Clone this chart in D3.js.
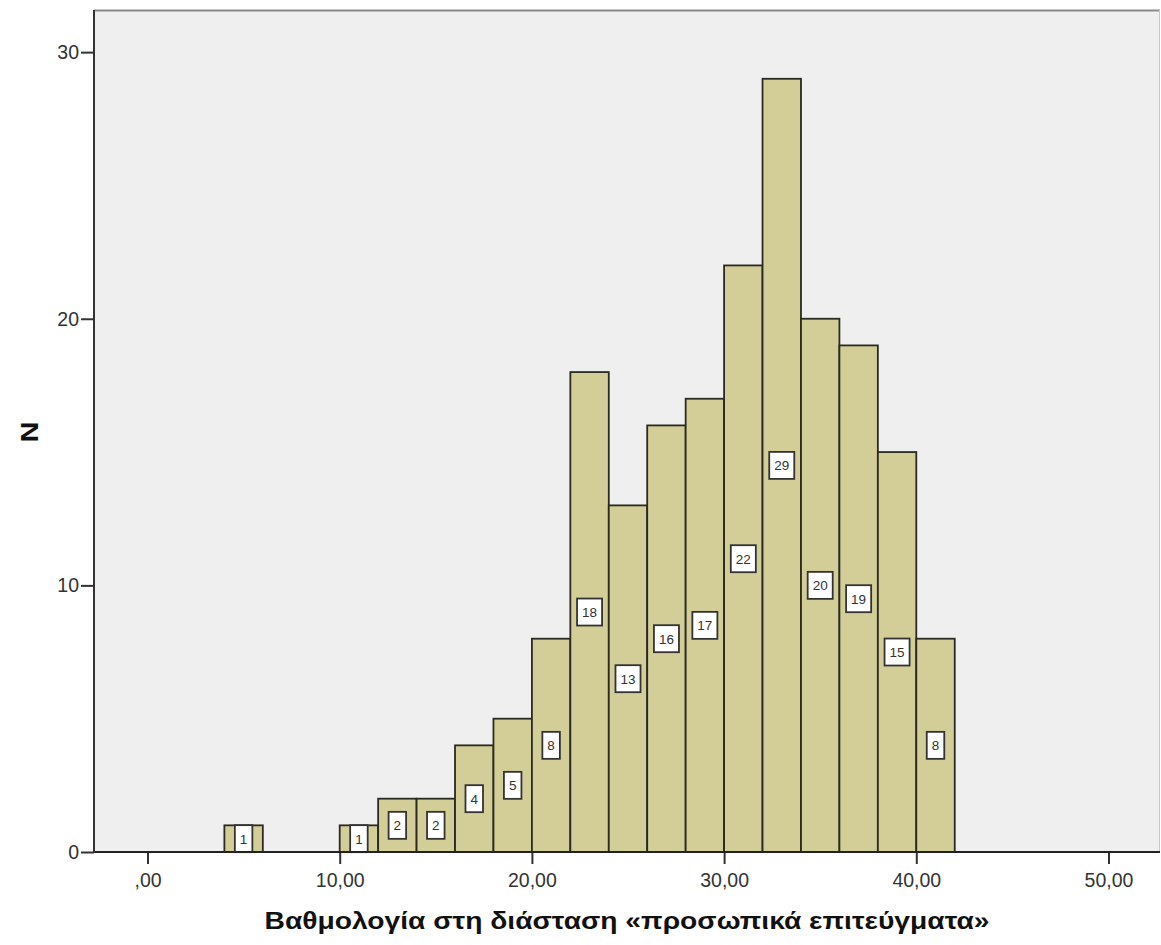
<!DOCTYPE html>
<html><head><meta charset="utf-8">
<script src="https://cdn.jsdelivr.net/npm/d3@7"></script>
<style>
html,body{margin:0;padding:0;background:#fff;}
svg{display:block;}
text{font-family:Arial,"Liberation Sans",sans-serif;}
</style></head>
<body>
<script>
// data
const binStarts = [4, 10, 12, 14, 16, 18, 20, 22, 24, 26, 28, 30, 32, 34, 36, 38, 40];
const counts    = [1, 1, 2, 2, 4, 5, 8, 18, 13, 16, 17, 22, 29, 20, 19, 15, 8];
const binWidth = 2;
const xTicks = [0, 10, 20, 30, 40, 50];
const xTickLabels = [",00", "10,00", "20,00", "30,00", "40,00", "50,00"];
const yTicks = [0, 10, 20, 30];
const xTitle = "Βαθμολογία στη διάσταση «προσωπικά επιτεύγματα»";
const yTitle = "N";

const W = 1161, H = 945;
const L = 94, T = 10, R = 1160, B = 852;

const svg = d3.select("body").append("svg").attr("width", W).attr("height", H);

const x = d3.scaleLinear().domain([-2.784, 52.68]).range([L, R]);
const y = d3.scaleLinear().domain([0, 31.58]).range([B, T]);

// plot background
svg.append("rect").attr("x", L).attr("y", T).attr("width", R - L).attr("height", B - T)
  .attr("fill", "#efefef");
// top border
svg.append("line").attr("x1", L).attr("x2", R).attr("y1", T + 0.5).attr("y2", T + 0.5)
  .attr("stroke", "#8a8a8a").attr("stroke-width", 2);
// right border
svg.append("line").attr("x1", R - 0.5).attr("x2", R - 0.5).attr("y1", T).attr("y2", B)
  .attr("stroke", "#c8c8c8").attr("stroke-width", 1);

const data = binStarts.map((s, i) => ({ s, e: s + binWidth, n: counts[i] }));

// bars
svg.append("g").selectAll("rect").data(data).join("rect")
  .attr("x", d => x(d.s))
  .attr("y", d => y(d.n))
  .attr("width", d => x(d.e) - x(d.s))
  .attr("height", d => y(0) - y(d.n))
  .attr("fill", "#d3ce97")
  .attr("stroke", "#2a2a22")
  .attr("stroke-width", 1.8);

// labels
const lg = svg.append("g");
data.forEach(d => {
  const cx = x(d.s + binWidth / 2), cy = y(d.n / 2);
  const t = lg.append("text").attr("x", cx).attr("y", cy + 5)
    .attr("text-anchor", "middle").attr("font-size", 13.5).attr("fill", "#333")
    .text(d.n);
  const bw = t.node().getComputedTextLength() + 10;
  const bh = 27;
  lg.insert("rect", "text").attr("x", cx - bw / 2).attr("y", cy - bh / 2)
    .attr("width", bw).attr("height", bh)
    .attr("fill", "#fff").attr("stroke", "#333").attr("stroke-width", 1.8);
});
lg.selectAll("text").raise();

// axes
const xAxis = d3.axisBottom(x).tickValues(xTicks)
  .tickFormat((d, i) => xTickLabels[i]).tickSize(12).tickSizeOuter(0);
const gx = svg.append("g").attr("transform", `translate(0,${B})`).call(xAxis);
gx.select(".domain").remove();
gx.selectAll(".tick line").attr("stroke", "#333").attr("stroke-width", 2);
gx.selectAll(".tick text").attr("font-size", 19.5).attr("fill", "#333").attr("dy", "1.05em")
  .attr("font-family", "Arial, 'Liberation Sans', sans-serif");

const yAxis = d3.axisLeft(y).tickValues(yTicks).tickSize(13).tickSizeOuter(0);
const gy = svg.append("g").attr("transform", `translate(${L},0)`).call(yAxis);
gy.select(".domain").remove();
gy.selectAll(".tick line").attr("stroke", "#333").attr("stroke-width", 2);
gy.selectAll(".tick text").attr("font-size", 19.5).attr("fill", "#333").attr("x", -15)
  .attr("font-family", "Arial, 'Liberation Sans', sans-serif");

// axis lines
svg.append("line").attr("x1", L).attr("x2", R).attr("y1", B).attr("y2", B)
  .attr("stroke", "#222").attr("stroke-width", 2);
svg.append("line").attr("x1", L).attr("x2", L).attr("y1", T).attr("y2", B + 1)
  .attr("stroke", "#333").attr("stroke-width", 2);

// titles
svg.append("text").attr("x", 627).attr("y", 929).attr("text-anchor", "middle")
  .attr("font-size", 23).attr("font-weight", "bold").attr("fill", "#111")
  .attr("textLength", 725).attr("lengthAdjust", "spacingAndGlyphs").text(xTitle);
svg.append("text").attr("transform", "translate(38,432) rotate(-90)").attr("text-anchor", "middle")
  .attr("font-size", 23).attr("font-weight", "bold").attr("fill", "#111")
  .attr("textLength", 21).attr("lengthAdjust", "spacingAndGlyphs").text(yTitle);
</script>
</body></html>
